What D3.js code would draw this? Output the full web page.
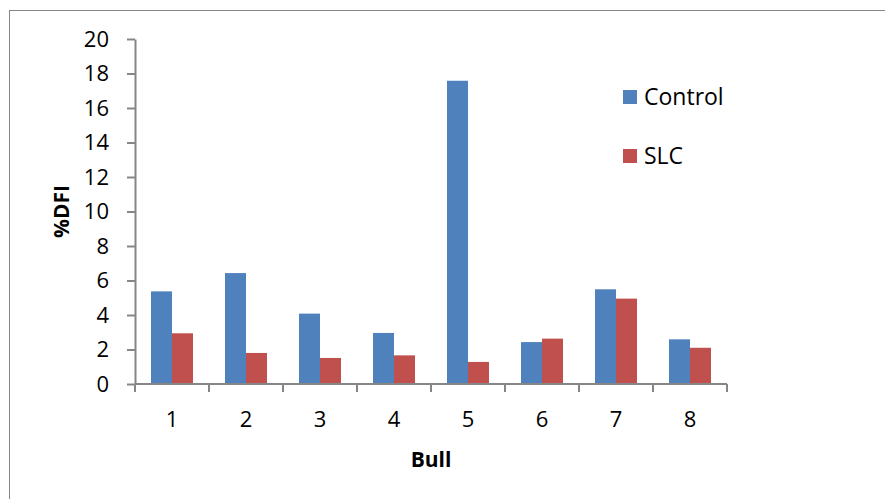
<!DOCTYPE html>
<html>
<head>
<meta charset="utf-8">
<script src="https://cdn.jsdelivr.net/npm/d3@7"></script>
<style>
  html, body { margin: 0; padding: 0; background: #fff; }
  svg { display: block; }
  text { font-family: "Open Sans", sans-serif; fill: #000; }
</style>
</head>
<body>
<svg id="chart" width="885" height="499"></svg>
<script>
// %DFI per bull, two treatments
const bulls = ["1", "2", "3", "4", "5", "6", "7", "8"];
const seriesNames = ["Control", "SLC"];
const controlValues = [5.37, 6.43, 4.08, 2.96, 17.58, 2.43, 5.49, 2.59];
const slcValues = [2.94, 1.80, 1.51, 1.66, 1.28, 2.63, 4.95, 2.10];
const yTicks = [0, 2, 4, 6, 8, 10, 12, 14, 16, 18, 20];
const colors = ["#4F81BD", "#C0504D"];

const svg = d3.select("#chart");
const plotLeft = 135, plotRight = 727, plotTop = 39, plotBottom = 384;
const axisColor = "#868686";

// outer chart frame
svg.append("rect")
  .attr("x", 9.5).attr("y", 10.5)
  .attr("width", 885).attr("height", 499)
  .attr("fill", "none").attr("stroke", axisColor).attr("stroke-width", 1);

const x = d3.scaleBand().domain(bulls).range([plotLeft, plotRight]).paddingInner(0).paddingOuter(0);
const x1 = d3.scaleBand().domain(seriesNames).range([16, x.bandwidth() - 16]);
const y = d3.scaleLinear().domain([0, 20]).range([plotBottom, plotTop]);

const data = bulls.map((b, i) => ({ bull: b, values: [controlValues[i], slcValues[i]] }));

// bars
const groups = svg.append("g").selectAll("g").data(data).join("g")
  .attr("transform", d => `translate(${x(d.bull)},0)`);
groups.selectAll("rect")
  .data(d => d.values.map((v, k) => ({ name: seriesNames[k], v, k })))
  .join("rect")
  .attr("x", d => x1(d.name))
  .attr("width", x1.bandwidth())
  .attr("y", d => y(d.v))
  .attr("height", d => y(0) - y(d.v))
  .attr("fill", d => colors[d.k]);

// y axis
const yAxis = svg.append("g").attr("transform", `translate(${plotLeft},0)`)
  .call(d3.axisLeft(y).tickValues(yTicks).tickSize(8).tickPadding(18).tickSizeOuter(0));
yAxis.select(".domain").attr("stroke", axisColor).attr("stroke-width", 2);
yAxis.selectAll(".tick line").attr("stroke", axisColor).attr("stroke-width", 2);
yAxis.selectAll(".tick text").attr("font-size", 22).attr("font-family", "Open Sans, sans-serif").attr("fill", "#000");

// x axis with ticks on category boundaries
const xAxisG = svg.append("g").attr("transform", `translate(0,${plotBottom})`);
xAxisG.append("line").attr("x1", plotLeft).attr("x2", plotRight).attr("y1", 0).attr("y2", 0)
  .attr("stroke", axisColor).attr("stroke-width", 2);
const boundaries = bulls.map(b => x(b)).concat([x(bulls[bulls.length - 1]) + x.bandwidth()]);
xAxisG.selectAll("line.tk").data(boundaries).join("line").attr("class", "tk")
  .attr("x1", d => d).attr("x2", d => d).attr("y1", 0).attr("y2", 8)
  .attr("stroke", axisColor).attr("stroke-width", 2);
xAxisG.selectAll("text").data(bulls).join("text")
  .attr("x", d => x(d) + x.bandwidth() / 2)
  .attr("y", 43)
  .attr("text-anchor", "middle")
  .attr("font-size", 22)
  .text(d => d);

// axis titles
svg.append("text")
  .attr("x", (plotLeft + plotRight) / 2).attr("y", 467)
  .attr("text-anchor", "middle").attr("font-size", 21).attr("font-weight", "bold")
  .text("Bull");
svg.append("text")
  .attr("transform", `translate(69,${(plotTop + plotBottom) / 2}) rotate(-90)`)
  .attr("text-anchor", "middle").attr("font-size", 21).attr("font-weight", "bold")
  .text("%DFI");

// legend
const legend = svg.append("g").attr("transform", "translate(623,90)");
const items = legend.selectAll("g").data(seriesNames).join("g")
  .attr("transform", (d, i) => `translate(0,${i * 59})`);
items.append("rect").attr("width", 14).attr("height", 14).attr("fill", (d, i) => colors[i]);
items.append("text").attr("x", 21).attr("y", 15).attr("font-size", 23).text(d => d);
</script>
</body>
</html>
